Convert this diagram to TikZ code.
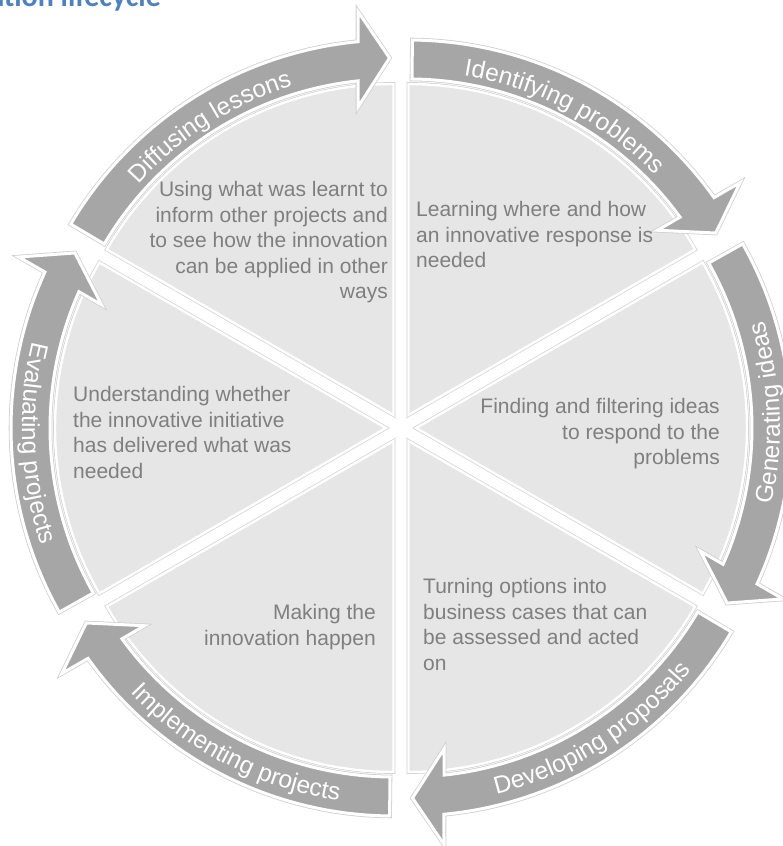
\documentclass[tikz,border=0pt]{standalone}
\usepackage{fontspec}
\setmainfont{Liberation Sans}
\newfontfamily\titlefont{Carlito}
\usetikzlibrary{decorations.text}
\definecolor{wedgefill}{RGB}{230,230,230}
\definecolor{bandfill}{RGB}{166,166,166}
\definecolor{wedgetext}{RGB}{127,127,127}
\definecolor{edgeline}{RGB}{208,208,208}
\definecolor{titleblue}{RGB}{79,129,189}
\newcommand{\bandfont}{\fontsize{24.5}{24.5}\selectfont}
% #1 centre, #2 lower angle of the sector, #3 label, #4 baseline start, #5 baseline end, #6 radius
\newcommand{\cycleseg}[6]{%
  \begin{scope}[shift={#1}, rotate=#2]
    \path[wedge] (0,0) -- (0:331) arc[start angle=0, end angle=60, radius=331] -- cycle;
    \path[band] (59.4:375) arc[start angle=59.4, end angle=5.43, radius=375]
      -- (403.4,35.5) -- (357,4) -- (308,35.5) -- (334.1,35.5)
      arc[start angle=6.06, end angle=59.4, radius=336] -- cycle;
    \path[decorate, decoration={text along path, text color=white,
      text={|\bandfont|#3}, text align=center}]
      (#4:#6) arc[start angle=#4, end angle=#5, radius=#6];
  \end{scope}}
\begin{document}
\begin{tikzpicture}[x=1pt, y=1pt,
  wedge/.style={fill=wedgefill, draw=white, line width=2.4pt,
    preaction={draw=edgeline, line width=3.8pt}},
  band/.style={fill=bandfill, draw=white, line width=3pt,
    preaction={draw=edgeline, line width=4.6pt}},
  desc/.style={font=\fontsize{21}{25.5}\selectfont, text=wedgetext, inner sep=0pt}]
\useasboundingbox (0,0) rectangle (783,846);

% title (cut off at the top edge)
\node[font=\titlefont\bfseries\fontsize{30}{30}\selectfont, text=titleblue,
  anchor=base east, inner sep=0pt] (title) at (161,839.5) {Innovation lifecycle};

% segments
\cycleseg{(408.5,431)}{30}{Identifying problems}{57}{8}{344}
\cycleseg{(416,418)}{-30}{Generating ideas}{8}{57}{364}
\cycleseg{(408.5,405)}{-90}{Developing proposals}{8}{57}{364}
\cycleseg{(393.5,405)}{-150}{Implementing projects}{8}{57}{364}
\cycleseg{(386,418)}{150}{Evaluating projects}{8}{57}{364}
\cycleseg{(393.5,431)}{90}{Diffusing lessons}{57}{8}{344}

% descriptions (anchor = baseline of the last line)
\node[desc, align=left, anchor=base west] (d1) at (416,578)
  {Learning where and how\\an innovative response is\\needed};
\node[desc, align=right, anchor=base east] (d2) at (720,381)
  {Finding and filtering ideas\\to respond to the\\problems};
\node[desc, align=left, anchor=base west] (d3) at (423,175.5)
  {Turning options into\\business cases that can\\be assessed and acted\\on};
\node[desc, align=right, anchor=base east] (d4) at (376,200.5)
  {Making the\\innovation happen};
\node[desc, align=left, anchor=base west] (d5) at (73,367.5)
  {Understanding whether\\the innovative initiative\\has delivered what was\\needed};
\node[desc, align=right, anchor=base east] (d6) at (388,547)
  {Using what was learnt to\\inform other projects and\\to see how the innovation\\can be applied in other\\ways};
\end{tikzpicture}
\end{document}
